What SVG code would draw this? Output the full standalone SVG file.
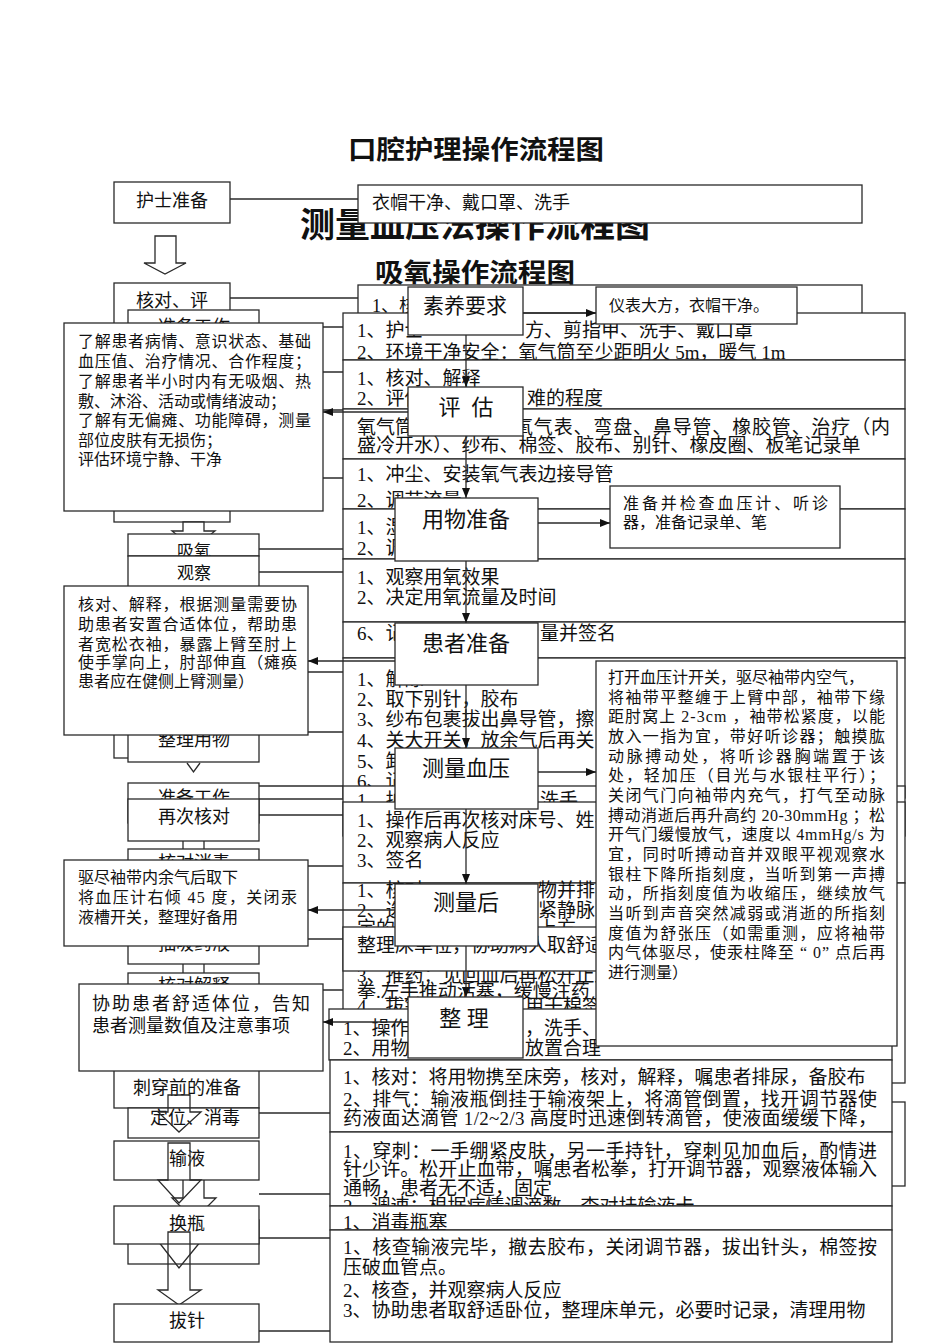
<svg xmlns="http://www.w3.org/2000/svg" width="950" height="1344" viewBox="0 0 950 1344">
<style>
.b{fill:#fff;stroke:#2a2a2a;stroke-width:1.3}
.l{stroke:#2a2a2a;stroke-width:1.3;fill:none}
.h{fill:none;stroke:#2a2a2a;stroke-width:1.3}
.hw{fill:#fff;stroke:#2a2a2a;stroke-width:1.3}
text{font-family:"Liberation Serif","Noto Sans CJK SC",serif;fill:#111}
.t{font-size:19px}
.s{font-size:16px}
.m{font-size:18px}
.c{text-anchor:middle}
.ttl{font-weight:bold}
</style>
<defs>
<marker id="ah" markerUnits="userSpaceOnUse" markerWidth="10" markerHeight="8" refX="10" refY="4" orient="auto"><path d="M0,0 L10,4 L0,8 z" fill="#111"/></marker>
</defs>

<g id="titles">
<text class="ttl" x="348" y="159" font-size="26" textLength="256" lengthAdjust="spacingAndGlyphs">口腔护理操作流程图</text>
<text class="ttl" x="300" y="237" font-size="34" textLength="350" lengthAdjust="spacingAndGlyphs">测量血压法操作流程图</text>
<text class="ttl" x="375" y="282" font-size="26" textLength="200" lengthAdjust="spacingAndGlyphs">吸氧操作流程图</text>
</g>

<!-- oral care chart (bottom layer) -->
<g id="oral-connectors">
<line class="l" x1="230" y1="199" x2="358" y2="199"/>
<line class="l" x1="230" y1="298" x2="358" y2="298"/>
</g>
<g id="oral-nurse"><rect class="b" x="114" y="182" width="116" height="41"/><text class="m c" x="172" y="207">护士准备</text></g>
<g id="oral-nurse-note"><rect class="b" x="358" y="185" width="504" height="38"/><text class="m" x="372" y="209">衣帽干净、戴口罩、洗手</text></g>
<g id="oral-arrow"><polygon class="hw" points="155,236 176,236 176,263 186,263 165,274 144,263 155,263"/></g>
<g id="oral-check"><rect class="b" x="114" y="283" width="116" height="239"/><text class="m c" x="172" y="307">核对、评</text></g>
<g id="oral-check-note"><rect class="b" x="358" y="285" width="504" height="45"/><text class="m" x="372" y="312">1、核</text></g>
<g id="oral-arrow2"><polygon class="hw" points="183,522 204,522 204,531 215,531 193.5,548 172,531 183,531"/></g>

<!-- oxygen chart -->
<g id="oxy-connectors">
<line class="l" x1="259" y1="327" x2="343" y2="327"/>
<line class="l" x1="259" y1="372" x2="343" y2="372"/>
<line class="l" x1="259" y1="410" x2="343" y2="410"/>
<line class="l" x1="259" y1="478" x2="343" y2="478"/>
<line class="l" x1="259" y1="549" x2="343" y2="549"/>
<line class="l" x1="259" y1="572" x2="343" y2="572"/>
<line class="l" x1="259" y1="672" x2="343" y2="672"/>
<line class="l" x1="259" y1="732" x2="343" y2="732"/>
</g>
<g id="oxy-prep"><rect class="b" x="128" y="310" width="131" height="190"/><text class="m c" x="194" y="333">准备工作</text></g>
<g id="oxy-inhale"><rect class="b" x="128" y="534" width="131" height="22"/><text class="c" font-size="17" x="194" y="557">吸氧</text></g>
<g id="oxy-observe"><rect class="b" x="128" y="556" width="131" height="44"/><text class="c" font-size="17" x="194" y="579">观察</text></g>

<g id="oxy-r1"><rect class="b" x="343" y="313" width="562" height="47"/>
<text class="t" x="357" y="337">1、护士</text><text class="t" x="525" y="337">方、剪指甲、洗手、戴口罩</text>
<text class="t" x="357" y="359">2、环境干净安全：氧气筒至少距明火 5m，暖气 1m</text></g>
<g id="oxy-r2"><rect class="b" x="343" y="360" width="562" height="49"/>
<text class="t" x="357" y="385">1、核对、解释</text>
<text class="t" x="357" y="405">2、评估</text><text class="t" x="527" y="405">难的程度</text></g>
<g id="oxy-r3"><rect class="b" x="343" y="409" width="562" height="50"/>
<text class="t" x="357" y="434">氧气筒</text><text class="t" x="514" y="434" textLength="376" lengthAdjust="spacing">氧气表、弯盘、鼻导管、橡胶管、治疗（内</text>
<text class="t" x="357" y="452">盛冷开水）、纱布、棉签、胶布、别针、橡皮圈、板笔记录单</text></g>
<g id="oxy-r4"><rect class="b" x="343" y="459" width="562" height="50"/>
<text class="t" x="357" y="481">1、冲尘、安装氧气表边接导管</text>
<text class="t" x="357" y="507">2、调节流量</text></g>
<g id="oxy-r5"><rect class="b" x="343" y="509" width="562" height="50"/>
<text class="t" x="357" y="534">1、湿</text><text class="t" x="357" y="555">2、调</text></g>
<g id="oxy-r6"><rect class="b" x="343" y="559" width="562" height="63"/>
<text class="t" x="357" y="584">1、观察用氧效果</text><text class="t" x="357" y="604">2、决定用氧流量及时间</text></g>
<g id="oxy-r7"><rect class="b" x="343" y="622" width="562" height="36"/>
<text class="t" x="357" y="640">6、记录</text><text class="t" x="540" y="640">量并签名</text></g>
<g id="oxy-r8"><rect class="b" x="343" y="658" width="562" height="140"/>
<text class="t" x="357" y="686">1、解除</text>
<text class="t" x="357" y="706">2、取下别针，胶布</text>
<text class="t" x="357" y="726">3、纱布包裹拔出鼻导管，擦</text>
<text class="t" x="357" y="747">4、关大开关，放余气后再关</text>
<text class="t" x="357" y="768">5、卸下</text>
<text class="t" x="357" y="788">6、记录</text></g>

<!-- injection chart -->
<g id="inj-connectors">
<line class="l" x1="259" y1="786" x2="343" y2="786"/>
<line class="l" x1="259" y1="799" x2="343" y2="799"/>
<line class="l" x1="259" y1="815" x2="343" y2="815"/>
<line class="l" x1="259" y1="866" x2="343" y2="866"/>
<line class="l" x1="259" y1="939" x2="343" y2="939"/>
<line class="l" x1="259" y1="990" x2="343" y2="990"/>
<line class="l" x1="183" y1="841" x2="183" y2="850"/><line class="l" x1="204" y1="841" x2="204" y2="850"/>
<line class="l" x1="183" y1="964" x2="183" y2="973"/><line class="l" x1="204" y1="964" x2="204" y2="973"/>
</g>
<g id="inj-tidy-back"><rect class="b" x="114" y="700" width="116" height="58"/></g>
<g id="inj-tidy"><rect class="b" x="128" y="700" width="131" height="62"/><text class="m c" x="194" y="746">整理用物</text>
<polyline class="l" points="187,763 193.5,772 200,763"/></g>
<g id="inj-prep"><rect class="b" x="128" y="783" width="131" height="40"/><text class="m c" x="194" y="804">准备工作</text></g>
<g id="inj-recheck"><rect class="b" x="128" y="799" width="131" height="42"/><text class="m c" x="194" y="823">再次核对</text></g>
<g id="inj-step3"><rect class="b" x="128" y="849" width="131" height="50"/><text class="m c" x="194" y="869">核对消毒</text></g>
<g id="inj-step4"><rect class="b" x="128" y="920" width="131" height="44"/><text class="m c" x="194" y="950">抽吸药液</text></g>
<g id="inj-step5"><rect class="b" x="128" y="973" width="131" height="30"/><text class="m c" x="194" y="992">核对解释</text></g>

<g id="inj-rx"><rect class="b" x="343" y="786" width="562" height="50"/>
<text class="t" x="357" y="807">1、护士</text><text class="t" x="540" y="807">洗手</text></g>
<g id="inj-ry"><rect class="b" x="343" y="802" width="562" height="81"/>
<text class="t" x="357" y="827">1、操作后再次核对床号、姓名</text>
<text class="t" x="357" y="847">2、观察病人反应</text>
<text class="t" x="357" y="867">3、签名</text></g>
<g id="inj-rz"><rect class="b" x="343" y="883" width="562" height="200"/>
<text class="t" x="357" y="897">1、核对</text><text class="t" x="538" y="897">物并排</text>
<text class="t" x="357" y="917">2、选择</text><text class="t" x="538" y="917">紧静脉</text>
<text class="t" x="357" y="935">定的</text><text class="t" x="538" y="935">上方</text>
<text class="t" x="357" y="982">3、推药：见回血后再松开止血</text>
<text class="t" x="357" y="998">拳.左手推动活塞，缓慢注药</text>
<text class="t" x="357" y="1013">4、拔针</text><text class="t" x="525" y="1013">用干棉签</text></g>
<g id="inj-tidy-note"><rect class="b" x="343" y="927" width="549" height="44"/>
<text class="t" x="357" y="952">整理床单位，协助病人取舒适卧位</text></g>
<g id="inj-after"><rect class="b" x="329" y="1009" width="563" height="51"/>
<text class="t" x="343" y="1035">1、操作</text><text class="t" x="525" y="1035">，洗手、</text>
<text class="t" x="343" y="1055">2、用物</text><text class="t" x="525" y="1055">放置合理</text></g>

<!-- infusion chart -->
<g id="inf-connectors">
<line class="l" x1="259" y1="1113" x2="330" y2="1113"/>
<line class="l" x1="259" y1="1194" x2="330" y2="1194"/>
<line class="l" x1="259" y1="1238" x2="330" y2="1238"/>
<line class="l" x1="259" y1="1331" x2="330" y2="1331"/>
</g>
<g id="inf-back"><rect class="b" x="600" y="1102" width="305" height="84"/></g>
<g id="inf-b1"><rect class="b" x="330" y="1060" width="562" height="72"/>
<text class="t" x="343" y="1084">1、核对：将用物携至床旁，核对，解释，嘱患者排尿，备胶布</text>
<text class="t" x="343" y="1106" textLength="534" lengthAdjust="spacing">2、排气：输液瓶倒挂于输液架上，将滴管倒置，找开调节器使</text>
<text class="t" x="343" y="1125" textLength="534" lengthAdjust="spacing">药液面达滴管 1/2~2/3 高度时迅速倒转滴管，使液面缓缓下降，</text></g>
<g id="inf-b2"><rect class="b" x="330" y="1132" width="562" height="74"/>
<text class="t" x="343" y="1158" textLength="534" lengthAdjust="spacing">1、穿刺：一手绷紧皮肤，另一手持针，穿刺见加血后，酌情进</text>
<text class="t" x="343" y="1176" textLength="534" lengthAdjust="spacing">针少许。松开止血带，嘱患者松拳，打开调节器，观察液体输入</text>
<text class="t" x="343" y="1195">通畅，患者无不适，固定</text>
<text class="t" x="343" y="1213">2、调速：根据病情调滴数，查对挂输液卡</text></g>
<g id="inf-b3"><rect class="b" x="330" y="1206" width="562" height="24"/>
<text class="t" x="343" y="1229">1、消毒瓶塞</text></g>
<g id="inf-b4"><rect class="b" x="330" y="1230" width="562" height="112"/>
<text class="t" x="343" y="1254" textLength="534" lengthAdjust="spacing">1、核查输液完毕，撤去胶布，关闭调节器，拔出针头，棉签按</text>
<text class="t" x="343" y="1274">压破血管点。</text>
<text class="t" x="343" y="1297">2、核查，并观察病人反应</text>
<text class="t" x="343" y="1317">3、协助患者取舒适卧位，整理床单元，必要时记录，清理用物</text></g>

<g id="inf-puncture"><rect class="b" x="114" y="1050" width="145" height="58"/><text class="m c" x="187" y="1094">刺穿前的准备</text></g>
<g id="inf-disinfect"><rect class="b" x="128" y="1108" width="131" height="30"/><text class="m c" x="195" y="1124">定位、消毒</text></g>
<g id="inf-arrow1"><polygon class="h" points="168,1095 190,1095 190,1112 201,1112 179,1132 158,1112 168,1112"/></g>
<g id="inf-arrow3"><polygon class="h" points="183,1160 204,1160 204,1198 216,1198 194,1220 172,1198 183,1198"/></g>
<g id="inf-infuse"><rect class="b" x="114" y="1141" width="145" height="39"/><text class="m c" x="187" y="1165">输液</text></g>
<g id="inf-arrow2"><polygon class="h" points="168,1143 190,1143 190,1180 201,1180 179,1203 158,1180 168,1180"/></g>
<g id="inf-swap-back"><rect class="b" x="128" y="1220" width="131" height="44"/>
<polyline class="l" points="158,1241 179,1268 201,1241"/></g>
<g id="inf-swap"><rect class="b" x="114" y="1206" width="145" height="38"/><text class="m c" x="187" y="1230">换瓶</text></g>
<g id="inf-arrow4"><polygon class="h" points="168,1232 190,1232 190,1290 201,1290 179,1305 158,1290 168,1290"/></g>
<g id="inf-remove"><rect class="b" x="114" y="1304" width="145" height="38"/><text class="m c" x="187" y="1327">拔针</text></g>

<!-- blood pressure chart (top layer) -->
<g id="bp-assess-note"><rect class="b" x="64" y="323" width="259" height="188"/>
<text class="s" x="78" y="347" textLength="233" lengthAdjust="spacing">了解患者病情、意识状态、基础</text>
<text class="s" x="78" y="367" textLength="233" lengthAdjust="spacing">血压值、治疗情况、合作程度；</text>
<text class="s" x="78" y="387" textLength="233" lengthAdjust="spacing">了解患者半小时内有无吸烟、热</text>
<text class="s" x="78" y="407">敷、沐浴、活动或情绪波动；</text>
<text class="s" x="78" y="426" textLength="233" lengthAdjust="spacing">了解有无偏瘫、功能障碍，测量</text>
<text class="s" x="78" y="446">部位皮肤有无损伤；</text>
<text class="s" x="78" y="465">评估环境宁静、干净</text></g>
<g id="bp-patient-note"><rect class="b" x="64" y="586" width="244" height="149"/>
<text class="s" x="78" y="610" textLength="219" lengthAdjust="spacing">核对、解释，根据测量需要协</text>
<text class="s" x="78" y="630" textLength="219" lengthAdjust="spacing">助患者安置合适体位，帮助患</text>
<text class="s" x="78" y="650" textLength="219" lengthAdjust="spacing">者宽松衣袖，暴露上臂至肘上</text>
<text class="s" x="78" y="668" textLength="219" lengthAdjust="spacing">使手掌向上，肘部伸直（瘫痪</text>
<text class="s" x="78" y="687">患者应在健侧上臂测量）</text></g>
<g id="bp-after-note"><rect class="b" x="64" y="860" width="244" height="86"/>
<text class="s" x="78" y="883">驱尽袖带内余气后取下</text>
<text class="s" x="78" y="903" textLength="219" lengthAdjust="spacing">将血压计右倾 45 度，关闭汞</text>
<text class="s" x="78" y="923">液槽开关，整理好备用</text></g>
<g id="bp-tidy-note"><rect class="b" x="79" y="984" width="244" height="87"/>
<text class="m" x="92" y="1010" textLength="218" lengthAdjust="spacing">协助患者舒适体位，告知</text>
<text class="m" x="92" y="1032">患者测量数值及注意事项</text></g>

<g id="bp-connectors">
<line class="l" x1="523" y1="313" x2="596" y2="313" marker-end="url(#ah)"/>
<line class="l" x1="466" y1="335" x2="466" y2="387" marker-end="url(#ah)"/>
<line class="l" x1="408" y1="412" x2="323" y2="412" marker-end="url(#ah)"/>
<line class="l" x1="466" y1="436" x2="466" y2="498" marker-end="url(#ah)"/>
<line class="l" x1="538" y1="523" x2="610" y2="523" marker-end="url(#ah)"/>
<line class="l" x1="466" y1="561" x2="466" y2="623" marker-end="url(#ah)"/>
<line class="l" x1="395" y1="661" x2="308" y2="661" marker-end="url(#ah)"/>
<line class="l" x1="466" y1="685" x2="466" y2="748" marker-end="url(#ah)"/>
<line class="l" x1="538" y1="772" x2="596" y2="772" marker-end="url(#ah)"/>
<line class="l" x1="466" y1="809" x2="466" y2="884" marker-end="url(#ah)"/>
<line class="l" x1="395" y1="910" x2="308" y2="910" marker-end="url(#ah)"/>
<line class="l" x1="466" y1="946" x2="466" y2="997" marker-end="url(#ah)"/>
<line class="l" x1="408" y1="1022" x2="323" y2="1022" marker-end="url(#ah)"/>
</g>

<g id="bp-quality"><rect class="b" x="408" y="287" width="115" height="48"/><text class="c" font-size="21" x="465" y="313">素养要求</text></g>
<g id="bp-quality-note"><rect class="b" x="596" y="287" width="201" height="37"/><text class="s" x="609" y="311">仪表大方，衣帽干净。</text></g>
<g id="bp-assess"><rect class="b" x="408" y="387" width="115" height="49"/><text class="c" font-size="22" x="466" y="415" xml:space="preserve">评  估</text></g>
<g id="bp-supplies"><rect class="b" x="395" y="498" width="143" height="63"/><text class="c" font-size="22" x="466" y="527">用物准备</text></g>
<g id="bp-supplies-note"><rect class="b" x="610" y="486" width="230" height="62"/>
<text class="s" x="623" y="509" textLength="205" lengthAdjust="spacing">准备并检查血压计、听诊</text>
<text class="s" x="623" y="528">器，准备记录单、笔</text></g>
<g id="bp-patient"><rect class="b" x="395" y="623" width="143" height="62"/><text class="c" font-size="22" x="466" y="651">患者准备</text></g>
<g id="bp-measure"><rect class="b" x="395" y="748" width="143" height="61"/><text class="c" font-size="22" x="466" y="776">测量血压</text></g>
<g id="bp-measure-note"><rect class="b" x="596" y="661" width="301" height="385"/>
<text class="s" x="608" y="683">打开血压计开关，驱尽袖带内空气，</text>
<text class="s" x="608" y="703" textLength="277" lengthAdjust="spacing">将袖带平整缠于上臂中部，袖带下缘</text>
<text class="s" x="608" y="722" textLength="277" lengthAdjust="spacing">距肘窝上 2-3cm ，袖带松紧度，以能</text>
<text class="s" x="608" y="742" textLength="277" lengthAdjust="spacing">放入一指为宜，带好听诊器；触摸肱</text>
<text class="s" x="608" y="762" textLength="277" lengthAdjust="spacing">动脉搏动处，将听诊器胸端置于该</text>
<text class="s" x="608" y="781" textLength="277" lengthAdjust="spacing">处，轻加压（目光与水银柱平行）；</text>
<text class="s" x="608" y="801" textLength="277" lengthAdjust="spacing">关闭气门向袖带内充气，打气至动脉</text>
<text class="s" x="608" y="821" textLength="277" lengthAdjust="spacing">搏动消逝后再升高约 20-30mmHg ；松</text>
<text class="s" x="608" y="840" textLength="277" lengthAdjust="spacing">开气门缓慢放气，速度以 4mmHg/s 为</text>
<text class="s" x="608" y="860" textLength="277" lengthAdjust="spacing">宜，同时听搏动音并双眼平视观察水</text>
<text class="s" x="608" y="880" textLength="277" lengthAdjust="spacing">银柱下降所指刻度，当听到第一声搏</text>
<text class="s" x="608" y="899" textLength="277" lengthAdjust="spacing">动，所指刻度值为收缩压，继续放气</text>
<text class="s" x="608" y="919" textLength="277" lengthAdjust="spacing">当听到声音突然减弱或消逝的所指刻</text>
<text class="s" x="608" y="939" textLength="277" lengthAdjust="spacing">度值为舒张压（如需重测，应将袖带</text>
<text class="s" x="608" y="958" textLength="277" lengthAdjust="spacing">内气体驱尽，使汞柱降至 “ 0” 点后再</text>
<text class="s" x="608" y="978">进行测量）</text></g>
<g id="bp-after"><rect class="b" x="395" y="884" width="143" height="62"/><text class="c" font-size="22" x="466" y="910">测量后</text></g>
<g id="bp-tidy"><rect class="b" x="408" y="997" width="115" height="61"/><text class="c" font-size="22" x="464" y="1026" xml:space="preserve">整 理</text></g>
</svg>
